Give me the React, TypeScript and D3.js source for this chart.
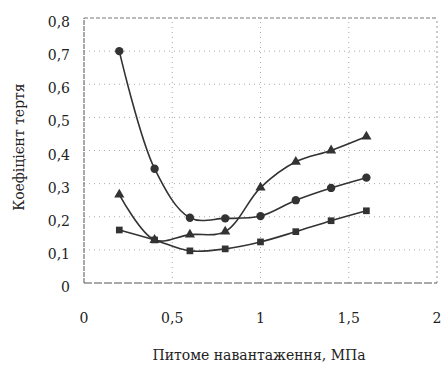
import * as d3 from "d3";
import { useEffect, useRef } from "react";

// питоме навантаження, МПа
const loads = [0.2, 0.4, 0.6, 0.8, 1.0, 1.2, 1.4, 1.6];
// коефіцієнт тертя, три серії
const seriesCircle = [0.7, 0.345, 0.197, 0.195, 0.202, 0.25, 0.287, 0.318];
const seriesTriangle = [0.267, 0.13, 0.146, 0.155, 0.288, 0.366, 0.4, 0.442];
const seriesSquare = [0.16, 0.13, 0.097, 0.103, 0.124, 0.155, 0.188, 0.218];
const yTicks = [0, 0.1, 0.2, 0.3, 0.4, 0.5, 0.6, 0.7, 0.8];
const xTicks = [0, 0.5, 1, 1.5, 2];

const W = 447, H = 369;
const margin = { top: 18, right: 10, bottom: 86, left: 84 };

const App = () => {
  const ref = useRef<SVGSVGElement>(null);

  useEffect(() => {
    const svg = d3.select(ref.current);
    svg.selectAll("*").remove();

    const x = d3.scaleLinear().domain([0, 2]).range([margin.left, W - margin.right]);
    const y = d3.scaleLinear().domain([0, 0.8]).range([H - margin.bottom, margin.top]);
    const fmt = (v: number) => String(v).replace(".", ",");
    const font = "'DejaVu Serif', 'Liberation Serif', serif";
    const ink = "#333";

    // grid
    svg.append("g")
      .selectAll("line")
      .data(yTicks.slice(1, -1))
      .enter()
      .append("line")
      .attr("x1", x(0)).attr("x2", x(2))
      .attr("y1", (d) => y(d)).attr("y2", (d) => y(d))
      .style("stroke", "#aaa")
      .style("stroke-dasharray", "1,4");
    svg.append("g")
      .selectAll("line")
      .data(xTicks.slice(1, -1))
      .enter()
      .append("line")
      .attr("y1", y(0)).attr("y2", y(0.8))
      .attr("x1", (d) => x(d)).attr("x2", (d) => x(d))
      .style("stroke", "#aaa")
      .style("stroke-dasharray", "1,4");

    // frame
    svg.append("line").attr("x1", x(0)).attr("x2", x(2)).attr("y1", y(0.8)).attr("y2", y(0.8))
      .style("stroke", "#777").style("stroke-dasharray", "4,2");
    svg.append("line").attr("x1", x(2)).attr("x2", x(2)).attr("y1", y(0)).attr("y2", y(0.8))
      .style("stroke", "#999").style("stroke-dasharray", "2,3");
    svg.append("line").attr("x1", x(0)).attr("x2", x(0)).attr("y1", y(0)).attr("y2", y(0.8))
      .style("stroke", "#555").style("stroke-dasharray", "5,1");
    svg.append("line").attr("x1", x(0)).attr("x2", x(2)).attr("y1", y(0)).attr("y2", y(0))
      .style("stroke", "#555").style("stroke-dasharray", "8,2");

    // tick labels
    svg.append("g")
      .selectAll("text")
      .data(yTicks)
      .enter()
      .append("text")
      .attr("x", 70)
      .attr("y", (d) => y(d) + 5)
      .attr("text-anchor", "end")
      .attr("dominant-baseline", "middle")
      .style("font-family", font)
      .style("font-size", "14px")
      .style("fill", "#222")
      .text((d) => fmt(d));
    svg.append("g")
      .selectAll("text")
      .data(xTicks)
      .enter()
      .append("text")
      .attr("x", (d) => x(d))
      .attr("y", 319)
      .attr("text-anchor", "middle")
      .attr("dominant-baseline", "middle")
      .style("font-family", font)
      .style("font-size", "14px")
      .style("fill", "#222")
      .text((d) => fmt(d));

    // axis titles
    svg.append("text")
      .attr("x", 259)
      .attr("y", 356)
      .attr("text-anchor", "middle")
      .attr("dominant-baseline", "middle")
      .style("font-family", font)
      .style("font-size", "14px")
      .style("fill", "#222")
      .text("Питоме навантаження, МПа");
    svg.append("text")
      .attr("transform", "translate(20, 147) rotate(-90)")
      .attr("text-anchor", "middle")
      .attr("dominant-baseline", "middle")
      .style("font-family", font)
      .style("font-size", "14px")
      .style("fill", "#222")
      .text("Коефіцієнт тертя");

    // lines + markers
    const line = d3.line<number>()
      .x((_, i) => x(loads[i]))
      .y((d) => y(d))
      .curve(d3.curveCatmullRom.alpha(0.5));

    const series = [
      { values: seriesCircle, symbol: d3.symbolCircle, size: 55 },
      { values: seriesTriangle, symbol: d3.symbolTriangle, size: 45 },
      { values: seriesSquare, symbol: d3.symbolSquare, size: 45 },
    ];

    series.forEach((s) => {
      svg.append("path")
        .attr("d", line(s.values))
        .style("fill", "none")
        .style("stroke", ink)
        .style("stroke-width", 1.6);
      svg.append("g")
        .selectAll("path")
        .data(s.values)
        .enter()
        .append("path")
        .attr("d", d3.symbol().type(s.symbol).size(s.size))
        .attr("transform", (d, i) => `translate(${x(loads[i])}, ${y(d)})`)
        .style("fill", ink);
    });
  }, []);

  return (
    <svg
      ref={ref}
      width={W}
      height={H}
      style={{ position: "absolute", left: 0, top: 0, background: "#fff" }}
    />
  );
};

export default App;
